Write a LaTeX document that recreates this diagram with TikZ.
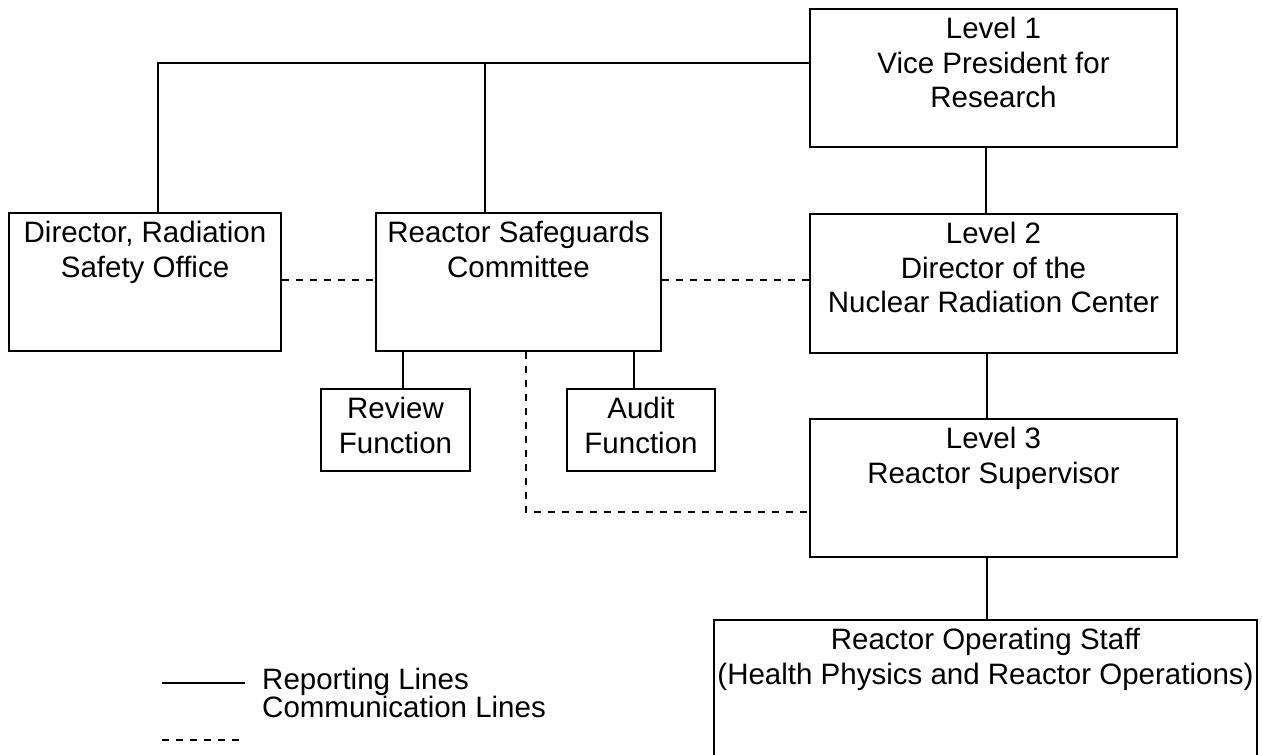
\documentclass[tikz,border=0pt]{standalone}
\usepackage{fontspec}
\setmainfont{Liberation Sans}
\begin{document}
\begin{tikzpicture}[x=1pt,y=-1pt,
  box/.style={draw, line width=1.6pt, rectangle, inner sep=0pt},
  txt/.style={font=\fontsize{29.5}{34.5}\selectfont, align=center, inner sep=0pt, anchor=north},
  rep/.style={line width=1.6pt},
  com/.style={line width=1.6pt, dash pattern=on 7pt off 7pt}]
\useasboundingbox (0,0) rectangle (1262,755);
% boxes
\node[box, minimum width=367pt, minimum height=138pt] (vp) at (993.5,78) {};
\node[box, minimum width=272pt, minimum height=138pt] (rso) at (145,282) {};
\node[box, minimum width=285pt, minimum height=138pt] (rsc) at (518.5,282) {};
\node[box, minimum width=367pt, minimum height=139pt] (l2) at (993.5,283.5) {};
\node[box, minimum width=149pt, minimum height=82pt] (rev) at (395.5,430) {};
\node[box, minimum width=148pt, minimum height=82pt] (aud) at (641,430) {};
\node[box, minimum width=367pt, minimum height=138pt] (l3) at (993.5,488) {};
\node[box, minimum width=543pt, minimum height=160pt] (staff) at (985.5,700) {};
% texts
\node[txt] (vpt) at ([yshift=-9pt]vp.north) {Level 1\\Vice President for\\Research};
\node[txt] (rsot) at ([yshift=-9pt]rso.north) {Director, Radiation\\Safety Office};
\node[txt] (rsct) at ([yshift=-9pt]rsc.north) {Reactor Safeguards\\Committee};
\node[txt] (l2t) at ([yshift=-9pt]l2.north) {Level 2\\Director of the\\Nuclear Radiation Center};
\node[txt] (revt) at ([yshift=-9pt]rev.north) {Review\\Function};
\node[txt] (audt) at ([yshift=-9pt]aud.north) {Audit\\Function};
\node[txt] (l3t) at ([yshift=-9pt]l3.north) {Level 3\\Reactor Supervisor};
\node[txt] (stafft) at ([yshift=-9pt]staff.north) {Reactor Operating Staff\\(Health Physics and Reactor Operations)};
% reporting lines
\coordinate (jB) at (485,63);
\draw[rep] (vp.west |- 0,63) -| (rso.north -| 158,0);
\draw[rep] (jB) -- (rsc.north -| jB);
\draw[rep] (vp.south -| 986,0) -- (l2.north -| 986,0);
\draw[rep] (l2.south -| 987,0) -- (l3.north -| 987,0);
\draw[rep] (l3.south -| 987,0) -- (staff.north -| 987,0);
\draw[rep] (rsc.south -| 403,0) -- (rev.north -| 403,0);
\draw[rep] (rsc.south -| 634,0) -- (aud.north -| 634,0);
% communication lines
\draw[com] (rso.east |- 0,280) -- (rsc.west |- 0,280);
\draw[com] (rsc.east |- 0,280) -- (l2.west |- 0,280);
\draw[com] (rsc.south -| 526,0) |- (l3.west |- 0,512);
% legend
\coordinate (lg1a) at (162,683);
\coordinate (lg1b) at (245,683);
\coordinate (lg2a) at (162,740);
\coordinate (lg2b) at (240,740);
\draw[rep] (lg1a) -- (lg1b);
\draw[com] (lg2a) -- (lg2b);
\node[font=\fontsize{29.5}{34.5}\selectfont, inner sep=0pt, anchor=base west] (lgt1) at (262,689) {Reporting Lines};
\node[font=\fontsize{29.5}{34.5}\selectfont, inner sep=0pt, anchor=base west] (lgt2) at (262,717) {Communication Lines};
\end{tikzpicture}
\end{document}
